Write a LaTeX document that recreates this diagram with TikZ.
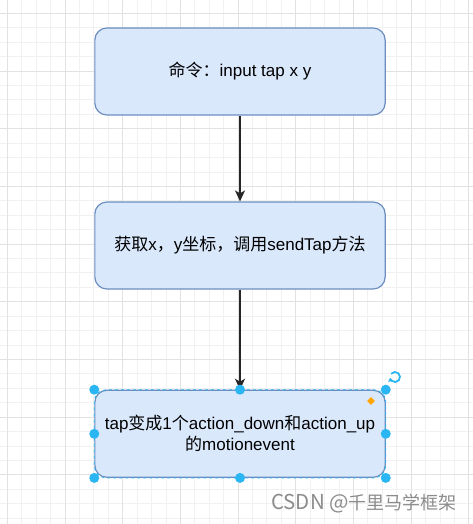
\documentclass[tikz,border=0pt]{standalone}
\usepackage{fontspec}
\setmainfont{Liberation Sans}
\newfontfamily\cjk{Noto Sans CJK SC}
\newcommand\zhtext[1]{{\cjk #1}}
\usetikzlibrary{arrows.meta,shapes.geometric}
\definecolor{boxfill}{HTML}{DAE8FC}
\definecolor{boxline}{HTML}{6C8EBF}
\definecolor{gridminor}{HTML}{F1F1F1}
\definecolor{gridmajor}{HTML}{E2E2E2}
\definecolor{selblue}{HTML}{29B6F2}
\definecolor{handleor}{HTML}{FFA500}
\tikzset{
  flowbox/.style={draw=boxline, fill=boxfill, line width=1.2pt, rounded corners=12pt,
    minimum width=290.3pt, minimum height=87pt, align=center, font=\fontsize{17}{21}\selectfont, inner sep=0pt},
  flowarrow/.style={draw=black!85, line width=1.3pt, -{Stealth[length=11pt,width=10pt,inset=3pt]}},
  handle/.style={circle, fill=selblue, minimum size=10pt, inner sep=0pt},
  minorline/.style={draw=gridminor, line width=0.8pt},
  majorline/.style={draw=gridmajor, line width=0.9pt}
}
\begin{document}
\begin{tikzpicture}[x=1pt,y=-1pt]
\useasboundingbox (0,0) rectangle (473,524);
\fill[white] (0,0) rectangle (473,524);
% grid
\foreach \k in {0,...,34} {\draw[minorline] ({-7.12+\k*14.42},0) -- ({-7.12+\k*14.42},524);}
\foreach \k in {0,...,37} {\draw[minorline] (0,{-1.12+\k*14.42}) -- (473,{-1.12+\k*14.42});}
\foreach \k in {0,...,8} {\draw[majorline] ({7.3+\k*57.68},0) -- ({7.3+\k*57.68},524);}
\foreach \k in {0,...,9} {\draw[majorline] (0,{13.3+\k*57.68}) -- (473,{13.3+\k*57.68});}
% boxes
\node[flowbox] (b1) at (240,71.5) {\zhtext{命令：}input tap x y};
\node[flowbox] (b2) at (240,245.5) {\zhtext{获取}x\zhtext{，}y\zhtext{坐标，调用}sendTap\zhtext{方法}};
\node[flowbox] (b3) at (240,433.8) {tap\zhtext{变成}1\zhtext{个}action\_down\zhtext{和}action\_up\\\zhtext{的}motionevent};
% selection dashed outline
\draw[selblue, line width=0.8pt, dash pattern=on 3pt off 3pt, rounded corners=12pt] (b3.north west) rectangle (b3.south east);
% arrows
\draw[flowarrow] (b1.south) -- (b2.north);
\draw[flowarrow] (b2.south) -- (b3.north);
% handles
\foreach \a in {north west,north,north east,west,east,south west,south,south east}
  {\node[handle] at (b3.\a) {};}
\node[diamond, fill=handleor, minimum size=8pt, inner sep=0pt] (dia) at (371,401) {};
\coordinate (rot) at (395,377);
\draw[selblue, line width=1.8pt, -{Triangle[length=3.5pt,width=5pt]}] ([shift={(140:5pt)}]rot) arc[start angle=140, end angle=-170, radius=5pt];
% watermark
\node[anchor=east, text=black!45, font=\cjk\fontsize{18}{20}\selectfont, inner sep=0pt] (wm) at (457,504) {{\fontsize{20.5}{22}\selectfont CSDN @}千里马学框架};
\end{tikzpicture}
\end{document}
